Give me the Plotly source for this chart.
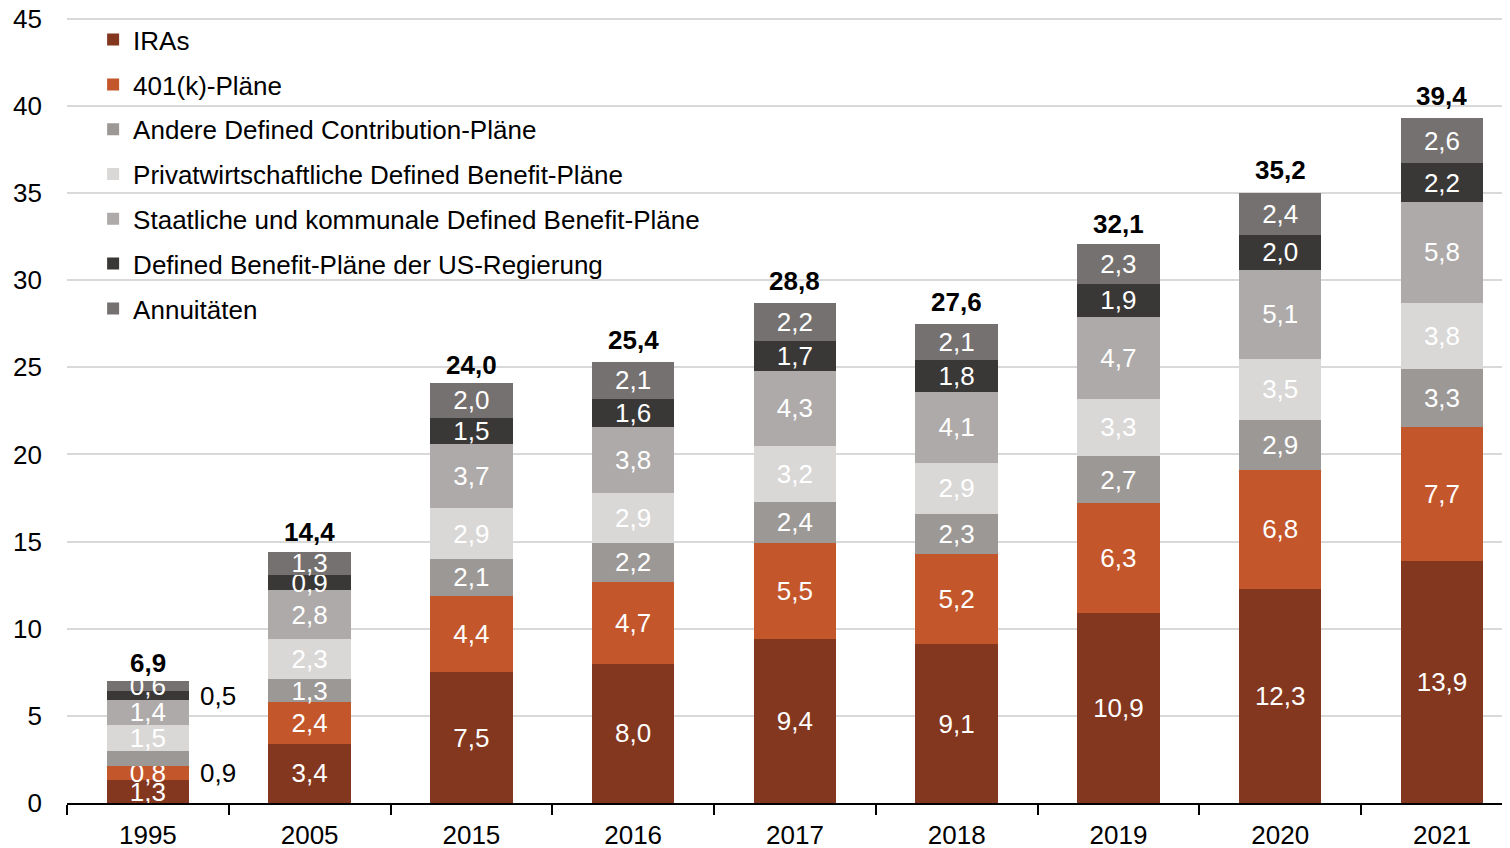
import plotly.graph_objects as go

years = ["1995", "2005", "2015", "2016", "2017", "2018", "2019", "2020", "2021"]

iras = [1.3, 3.4, 7.5, 8.0, 9.4, 9.1, 10.9, 12.3, 13.9]
k401 = [0.8, 2.4, 4.4, 4.7, 5.5, 5.2, 6.3, 6.8, 7.7]
andere_dc = [0.9, 1.3, 2.1, 2.2, 2.4, 2.3, 2.7, 2.9, 3.3]
privat_db = [1.5, 2.3, 2.9, 2.9, 3.2, 2.9, 3.3, 3.5, 3.8]
staat_db = [1.4, 2.8, 3.7, 3.8, 4.3, 4.1, 4.7, 5.1, 5.8]
us_db = [0.5, 0.9, 1.5, 1.6, 1.7, 1.8, 1.9, 2.0, 2.2]
annuitaeten = [0.6, 1.3, 2.0, 2.1, 2.2, 2.1, 2.3, 2.4, 2.6]
totals = [6.9, 14.4, 24.0, 25.4, 28.8, 27.6, 32.1, 35.2, 39.4]

series = [
    ("IRAs", iras, "#84371F"),
    ("401(k)-Pläne", k401, "#C4562B"),
    ("Andere Defined Contribution-Pläne", andere_dc, "#9C9896"),
    ("Privatwirtschaftliche Defined Benefit-Pläne", privat_db, "#D9D8D7"),
    ("Staatliche und kommunale Defined Benefit-Pläne", staat_db, "#ADAAA9"),
    ("Defined Benefit-Pläne der US-Regierung", us_db, "#3A3837"),
    ("Annuitäten", annuitaeten, "#757170"),
]

# segments of the 1995 bar that are labelled beside the bar instead of inside
outside_1995 = {"Andere Defined Contribution-Pläne": -14, "Defined Benefit-Pläne der US-Regierung": 0}

FONT = "Liberation Sans, Arial, sans-serif"
FS = 26


def de(v):
    return f"{v:.1f}".replace(".", ",")


fig = go.Figure()
for i, (name, vals, color) in enumerate(series):
    labels = [de(v) for v in vals]
    if name in outside_1995:
        labels[0] = ""
    fig.add_trace(
        go.Bar(
            x=years,
            y=vals,
            name=name,
            legendgroup=f"g{i}",
            marker=dict(color=color, line=dict(width=0)),
            text=labels,
            textposition="inside",
            insidetextanchor="middle",
            textangle=0,
            textfont=dict(color="white", size=FS, family=FONT),
            hoverinfo="skip",
        )
    )

# outside labels for the thin 1995 segments (x given as category index)
cum = 0.0
for name, vals, color in series:
    if name in outside_1995:
        fig.add_annotation(
            x=0, y=cum + vals[0] / 2, text=de(vals[0]),
            showarrow=False, xanchor="left", xshift=50, yshift=outside_1995[name],
            font=dict(size=FS, color="black", family=FONT),
        )
    cum += vals[0]

for idx, tot in enumerate(totals):
    fig.add_annotation(
        x=idx, y=tot, text=f"<b>{de(tot)}</b>", showarrow=False,
        yanchor="bottom", yshift=3,
        font=dict(size=FS, color="black", family=FONT),
    )

# page body adds an 8px offset, so margins are trimmed accordingly
fig.update_layout(
    width=1510,
    height=848,
    barmode="stack",
    bargap=0.49,
    plot_bgcolor="white",
    paper_bgcolor="white",
    margin=dict(l=59, r=0, t=9, b=53),
    font=dict(family=FONT, size=FS, color="black"),
    uniformtext=dict(minsize=FS, mode="show"),
    legend=dict(
        x=0.018, y=1.001, xanchor="left", yanchor="top",
        traceorder="grouped", tracegroupgap=8,
        bgcolor="rgba(0,0,0,0)",
        font=dict(size=FS, family=FONT, color="black"),
    ),
    showlegend=True,
)
fig.update_xaxes(
    type="category",
    range=[-0.5, 8.47],
    automargin=False,
    showline=True, linecolor="black", linewidth=2,
    ticks="outside", tickson="boundaries", ticklen=10, tickcolor="black", tickwidth=2,
    ticklabelstandoff=8,
    tickfont=dict(size=FS, family=FONT),
    showgrid=False,
)
fig.update_yaxes(
    range=[0, 45.1], tick0=0, dtick=5,
    automargin=False,
    showgrid=True, gridcolor="#D9D9D9", gridwidth=2,
    zeroline=False, showline=False,
    ticks="", ticklabelstandoff=24, ticklabeloverflow="allow",
    tickfont=dict(size=FS, family=FONT),
)

fig.write_html("out.html")
